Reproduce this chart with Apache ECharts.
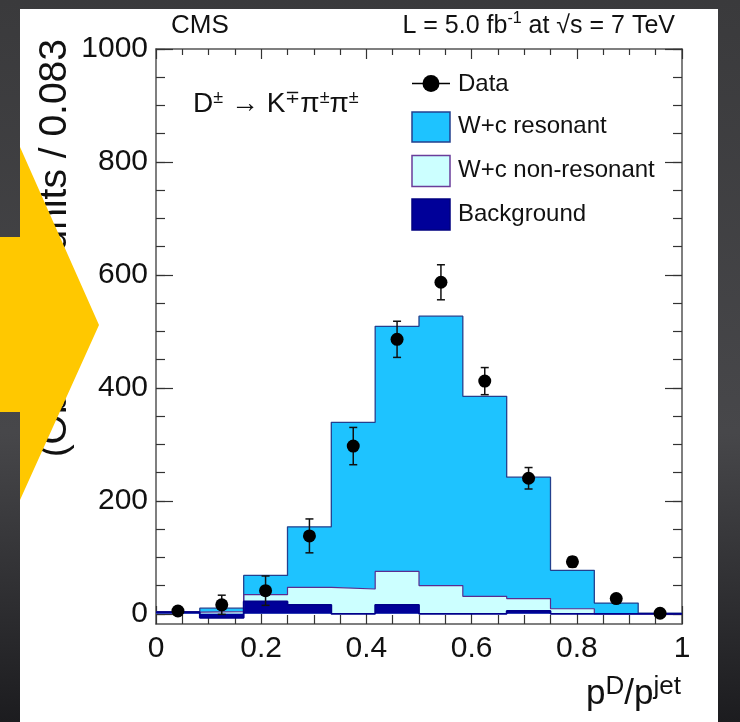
<!DOCTYPE html>
<html>
<head>
<meta charset="utf-8">
<script src="https://cdn.jsdelivr.net/npm/echarts@6.0.0/dist/echarts.min.js"></script>
<style>
  html, body { margin: 0; padding: 0; background: #2b2b2d; }
  #chart { width: 740px; height: 722px; }
</style>
</head>
<body>
<div id="chart"></div>
<script>
// histogram bins in pD/pjet (width 1/12)
const binEdges = [0, 0.0833, 0.1667, 0.25, 0.3333, 0.4167, 0.5, 0.5833, 0.6667, 0.75, 0.8333, 0.9167, 1];
const background = [3, -7, 22, 16, 0, 16, 0, 0, 5, 0, 0, 0];
const nonResonant = [0, 11, 12, 31, 44, 59, 50, 31, 22, 9, 0, 0];
const resonant = [1, 6, 34, 107, 295, 434, 477, 354, 215, 68, 19, 1];

// data points with stat errors
const dataX = [0.0417, 0.125, 0.2083, 0.2917, 0.375, 0.4583, 0.5417, 0.625, 0.7083, 0.7917, 0.875, 0.9583];
const dataY = [5, 16, 41, 138, 297, 486, 587, 412, 240, 92, 27, 1];
const dataErr = [3, 17, 26, 30, 33, 32, 31, 24, 19, 9, 6, 3];

const yTickLabels = [0, 200, 400, 600, 800, 1000];
const yMinorTicks = [];
for (let v = 0; v <= 1000; v += 50) yMinorTicks.push(v);

const FONT = 'Liberation Sans';
const colRes = '#1ec3ff', colNonRes = '#ccffff', colBkg = '#000099';

// stacked layers: bkg, bkg+nonres, bkg+nonres+res
const stackBkgNonRes = background.map((v, i) => v + nonResonant[i]);
const stackTotal = stackBkgNonRes.map((v, i) => v + resonant[i]);

// step line needs the last bin repeated at x=1
function stepData(vals) {
    const d = vals.map((v, i) => [binEdges[i], v]);
    d.push([binEdges[binEdges.length - 1], vals[vals.length - 1]]);
    return d;
}

const frame = {show: true, onZero: false, lineStyle: {color: '#555', width: 1.5}};
const tickStyle = {color: '#333', width: 1.2};

const chart = echarts.init(document.getElementById('chart'));

const option = {
    animation: false,
    backgroundColor: {
        type: 'linear', x: 0, y: 0, x2: 0, y2: 1,
        colorStops: [
            {offset: 0, color: '#3a3a3c'},
            {offset: 0.6, color: '#47474a'},
            {offset: 1, color: '#1c1c1f'}
        ]
    },
    grid: {left: 156, top: 49, width: 526, height: 575, containLabel: false, outerBoundsMode: 'none'},
    xAxis: [
        {
            type: 'value', position: 'bottom', min: 0, max: 1, interval: 0.2,
            axisLine: frame,
            axisTick: {inside: true, length: 18, lineStyle: tickStyle},
            minorTick: {show: true, splitNumber: 4, length: 9, lineStyle: tickStyle},
            axisLabel: {margin: 10, fontSize: 30, fontFamily: FONT, color: '#111', formatter: v => String(v)},
            splitLine: {show: false}
        },
        {
            type: 'value', position: 'top', min: 0, max: 1, interval: 0.2,
            axisLine: frame,
            axisTick: {inside: true, length: 10, lineStyle: tickStyle},
            minorTick: {show: true, splitNumber: 4, length: 6, lineStyle: tickStyle},
            axisLabel: {show: false},
            splitLine: {show: false}
        }
    ],
    yAxis: [
        {
            type: 'value', position: 'left', min: -18, max: 1000,
            axisLine: frame,
            axisTick: {inside: true, length: 17, customValues: yTickLabels, lineStyle: tickStyle},
            axisLabel: {margin: 8, fontSize: 30, fontFamily: FONT, color: '#111', customValues: yTickLabels, formatter: v => String(v)},
            splitLine: {show: false}
        },
        {
            type: 'value', position: 'left', min: -18, max: 1000,
            axisLine: {show: false, onZero: false},
            axisTick: {inside: true, length: 9, customValues: yMinorTicks, lineStyle: tickStyle},
            axisLabel: {show: false},
            splitLine: {show: false}
        },
        {
            type: 'value', position: 'right', min: -18, max: 1000,
            axisLine: frame,
            axisTick: {inside: true, length: 17, customValues: yTickLabels, lineStyle: tickStyle},
            axisLabel: {show: false},
            splitLine: {show: false}
        },
        {
            type: 'value', position: 'right', min: -18, max: 1000,
            axisLine: {show: false, onZero: false},
            axisTick: {inside: true, length: 9, customValues: yMinorTicks, lineStyle: tickStyle},
            axisLabel: {show: false},
            splitLine: {show: false}
        }
    ],
    series: [
        {
            name: 'W+c resonant', type: 'line', step: 'end',
            data: stepData(stackTotal), symbol: 'none',
            lineStyle: {color: '#23408e', width: 1.3},
            areaStyle: {color: colRes, opacity: 1}, z: 2
        },
        {
            name: 'W+c non-resonant', type: 'line', step: 'end',
            data: stepData(stackBkgNonRes), symbol: 'none',
            lineStyle: {color: '#5b2c8f', width: 1.2},
            areaStyle: {color: colNonRes, opacity: 1}, z: 2
        },
        {
            name: 'Background', type: 'line', step: 'end',
            data: stepData(background), symbol: 'none',
            lineStyle: {color: '#00008b', width: 1.8},
            areaStyle: {color: colBkg, opacity: 1}, z: 2
        },
        {
            name: 'Data errors', type: 'custom',
            data: dataX.map((x, i) => [x, dataY[i], dataErr[i]]),
            renderItem: function (params, api) {
                const x = api.value(0), y = api.value(1), e = api.value(2);
                const hi = api.coord([x, y + e]);
                const lo = api.coord([x, y - e]);
                const st = {stroke: '#111', lineWidth: 1.5};
                return {
                    type: 'group',
                    children: [
                        {type: 'line', shape: {x1: hi[0], y1: hi[1], x2: lo[0], y2: lo[1]}, style: st},
                        {type: 'line', shape: {x1: hi[0] - 4, y1: hi[1], x2: hi[0] + 4, y2: hi[1]}, style: st},
                        {type: 'line', shape: {x1: lo[0] - 4, y1: lo[1], x2: lo[0] + 4, y2: lo[1]}, style: st}
                    ]
                };
            },
            z: 5
        },
        {
            name: 'Data', type: 'scatter',
            data: dataX.map((x, i) => [x, dataY[i]]),
            symbolSize: 13, itemStyle: {color: '#000', opacity: 1}, z: 6
        }
    ],
    graphic: [
        // white slide area
        {type: 'rect', z: -10, shape: {x: 20, y: 9, width: 698, height: 713}, style: {fill: '#fff'}},
        {type: 'text', x: 171, y: 26, z: 50, style: {text: 'CMS', font: '26px ' + FONT, fill: '#111', verticalAlign: 'middle'}},
        {
            type: 'text', x: 675, y: 26, z: 50,
            style: {
                text: '{n|L = 5.0 fb}{s|-1}{n| at }{n|√s = 7 TeV}',
                align: 'right', verticalAlign: 'middle',
                rich: {
                    n: {font: '25px ' + FONT, fill: '#111', lineHeight: 30},
                    s: {font: '16px ' + FONT, fill: '#111', verticalAlign: 'top', lineHeight: 16}
                }
            }
        },
        {
            type: 'text', x: 193, y: 104, z: 50,
            style: {
                text: '{n|D}{s|±}{n| → K}{s|∓}{n|π}{s|±}{n|π}{s|±}',
                verticalAlign: 'middle',
                rich: {
                    n: {font: '28px ' + FONT, fill: '#111', lineHeight: 30},
                    s: {font: '18px ' + FONT, fill: '#111', verticalAlign: 'top', lineHeight: 18}
                }
            }
        },
        // legend
        {type: 'line', z: 50, shape: {x1: 412, y1: 83.5, x2: 450, y2: 83.5}, style: {stroke: '#000', lineWidth: 1.5}},
        {type: 'circle', z: 51, shape: {cx: 431, cy: 83.5, r: 8.5}, style: {fill: '#000'}},
        {type: 'rect', z: 50, shape: {x: 412, y: 112, width: 38, height: 30}, style: {fill: colRes, stroke: '#23408e', lineWidth: 1.5}},
        {type: 'rect', z: 50, shape: {x: 412, y: 155.5, width: 38, height: 31}, style: {fill: colNonRes, stroke: '#6a3d9a', lineWidth: 1.5}},
        {type: 'rect', z: 50, shape: {x: 412, y: 199, width: 38, height: 31}, style: {fill: colBkg, stroke: '#000080', lineWidth: 1.5}},
        {type: 'text', x: 458, y: 84, z: 50, style: {text: 'Data', font: '24px ' + FONT, fill: '#111', verticalAlign: 'middle'}},
        {type: 'text', x: 458, y: 126, z: 50, style: {text: 'W+c resonant', font: '24px ' + FONT, fill: '#111', verticalAlign: 'middle'}},
        {type: 'text', x: 458, y: 170, z: 50, style: {text: 'W+c non-resonant', font: '24px ' + FONT, fill: '#111', verticalAlign: 'middle'}},
        {type: 'text', x: 458, y: 214, z: 50, style: {text: 'Background', font: '24px ' + FONT, fill: '#111', verticalAlign: 'middle'}},
        // axis titles
        {
            type: 'text', x: 681, y: 694, z: 50,
            style: {
                text: '{n|p}{s|D}{n|/p}{s|jet}',
                align: 'right', verticalAlign: 'middle',
                rich: {
                    n: {font: '35px ' + FONT, fill: '#111', lineHeight: 40},
                    s: {font: '26px ' + FONT, fill: '#111', verticalAlign: 'top', lineHeight: 26}
                }
            }
        },
        {
            type: 'text', x: 55, y: 39, rotation: Math.PI / 2, z: 50,
            style: {text: '(Observed) units / 0.083', font: '39px ' + FONT, fill: '#111', align: 'right', verticalAlign: 'middle'}
        },
        // yellow slide arrow on top
        {
            type: 'polygon', z: 100,
            shape: {points: [[0, 237], [20, 237], [20, 147], [99, 325], [20, 500], [20, 412], [0, 412]]},
            style: {fill: '#ffc800'}
        }
    ]
};

chart.setOption(option);
</script>
</body>
</html>
